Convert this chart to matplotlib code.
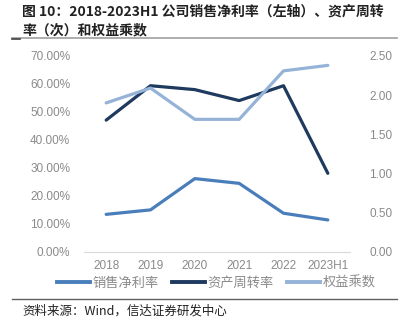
import numpy as np
import matplotlib
matplotlib.use("Agg")
import matplotlib.pyplot as plt
from matplotlib.lines import Line2D

plt.rcParams['font.family'] = ['Noto Sans CJK SC', 'DejaVu Sans']

years = ['2018', '2019', '2020', '2021', '2022', '2023H1']
net_margin = [13.3, 14.9, 26.1, 24.4, 13.7, 11.3]      # %, left axis
asset_turnover = [1.68, 2.12, 2.07, 1.93, 2.12, 1.00]  # right axis
equity_mult = [1.90, 2.09, 1.69, 1.69, 2.31, 2.38]     # right axis

c_net = '#4a7ebb'
c_turn = '#1f3a5f'
c_eq = '#95b3d7'
grey = '#8a8a8a'

fig = plt.figure(figsize=(4.08, 3.22), dpi=100)
ax = fig.add_axes([84 / 408, 1 - 251.5 / 322, 266 / 408, 195.5 / 322])
ax2 = ax.twinx()

x = np.arange(len(years))
ax.plot(x, net_margin, color=c_net, lw=2.3, solid_capstyle='round')
ax2.plot(x, asset_turnover, color=c_turn, lw=2.3, solid_capstyle='round')
ax2.plot(x, equity_mult, color=c_eq, lw=2.3, solid_capstyle='round')

ax.set_xlim(-0.5, 5.5)
ax.set_ylim(0, 70)
ax2.set_ylim(0, 2.5)
ax.set_yticks(np.arange(0, 71, 10))
ax.set_yticklabels(['%.2f%%' % v for v in np.arange(0, 71, 10)])
ax2.set_yticks(np.arange(0, 2.51, 0.5))
ax2.set_yticklabels(['%.2f' % v for v in np.arange(0, 2.51, 0.5)])
ax.set_xticks(x)
ax.set_xticklabels(years)

for a in (ax, ax2):
    for s in a.spines.values():
        s.set_visible(False)
    a.tick_params(length=0, labelsize=8.5, colors=grey, pad=6)
    for lab in a.get_xticklabels() + a.get_yticklabels():
        lab.set_family('Liberation Sans')
ax.spines['bottom'].set_visible(True)
ax.spines['bottom'].set_color('#d9d9d9')
ax.tick_params(axis='y', pad=10)
ax2.tick_params(axis='y', pad=14)

handles = [Line2D([], [], color=c, lw=2.8) for c in (c_net, c_turn, c_eq)]
fig.legend(handles, ['销售净利率', '资产周转率', '权益乘数'], loc='center',
           bbox_to_anchor=(0.53, 1 - 283 / 322), ncol=3, frameon=False,
           fontsize=9.5, labelcolor=grey, handlelength=2.5, handletextpad=0.2,
           columnspacing=1.0)

fig.text(22 / 408, 1 - 12 / 322, '图 10：2018-2023H1 公司销售净利率（左轴）、资产周转',
         fontsize=10, fontweight='bold', color='#222222', va='center')
fig.text(22 / 408, 1 - 30 / 322, '率（次）和权益乘数',
         fontsize=10, fontweight='bold', color='#222222', va='center')
fig.add_artist(Line2D([12 / 408, 397 / 408], [1 - 38 / 322] * 2, color='#a0a0a0', lw=1.2))
fig.add_artist(Line2D([12 / 408, 20 / 408], [1 - 39 / 322] * 2, color='#404040', lw=1.2))
fig.add_artist(Line2D([12 / 408, 397 / 408], [1 - 299 / 322] * 2, color='#606060', lw=1))
fig.text(22 / 408, 1 - 311 / 322, '资料来源：Wind，信达证券研发中心',
         fontsize=9, color='#222222', va='center', style='italic')

fig.savefig('out.png', dpi=100)
